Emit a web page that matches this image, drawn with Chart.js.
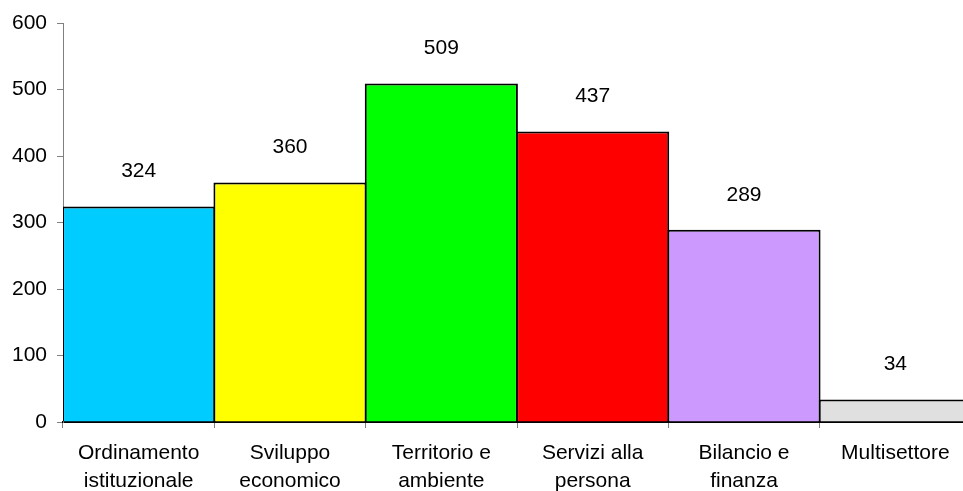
<!DOCTYPE html>
<html>
<head>
<meta charset="utf-8">
<script src="https://cdn.jsdelivr.net/npm/chart.js@4"></script>
<style>
  html, body { margin: 0; padding: 0; background: #fff; overflow: hidden; }
  /* a bit wider than the window: the last bar runs past the right edge */
  #wrap { width: 971px; height: 491px; }
</style>
</head>
<body>
<div id="wrap"><canvas id="settori"></canvas></div>
<script>
const categories = [
  ["Ordinamento", "istituzionale"],
  ["Sviluppo", "economico"],
  ["Territorio e", "ambiente"],
  ["Servizi alla", "persona"],
  ["Bilancio e", "finanza"],
  "Multisettore",
];
const values = [324, 360, 509, 437, 289, 34];
const barColors = ["#00CCFF", "#FFFF00", "#00FF00", "#FF0000", "#CC99FF", "#E0E0E0"];
const yTicks = [0, 100, 200, 300, 400, 500, 600];

const FONT = "'Liberation Sans', Arial, sans-serif";

// value labels over the bars
const valueLabels = {
  id: "valueLabels",
  afterDatasetsDraw(chart) {
    const ctx = chart.ctx;
    const meta = chart.getDatasetMeta(0);
    ctx.save();
    ctx.font = "21px " + FONT;
    ctx.fillStyle = "#000";
    ctx.textAlign = "center";
    ctx.textBaseline = "middle";
    meta.data.forEach((bar, i) => {
      ctx.fillText(String(values[i]), bar.x, bar.y - 35);
    });
    ctx.restore();
  },
};

new Chart(document.getElementById("settori"), {
  type: "bar",
  data: {
    labels: categories,
    datasets: [
      {
        data: values,
        backgroundColor: barColors,
        borderColor: "#000",
        borderWidth: 2,
        barPercentage: 1.012,
        categoryPercentage: 1,
      },
    ],
  },
  options: {
    responsive: true,
    maintainAspectRatio: false,
    animation: false,
    layout: { padding: { top: 23, right: 0, left: 0, bottom: 0 } },
    plugins: {
      legend: { display: false },
      tooltip: { enabled: false },
    },
    scales: {
      x: {
        grid: { display: true, drawOnChartArea: false, tickLength: 6, color: "#808080", offset: true },
        border: { display: true, color: "#000", width: 2 },
        ticks: {
          color: "#000",
          font: { family: FONT, size: 21, lineHeight: 1.33 },
          padding: 11,
          maxRotation: 0,
          autoSkip: false,
        },
        afterFit(scale) { scale.height = 69; },
      },
      y: {
        min: 0,
        max: 600,
        afterBuildTicks(scale) { scale.ticks = yTicks.map((v) => ({ value: v })); },
        grid: { display: true, drawOnChartArea: false, tickLength: 6, color: "#808080" },
        border: { display: true, color: "#808080", width: 1 },
        ticks: {
          color: "#000",
          font: { family: FONT, size: 21 },
          padding: 10,
        },
        afterFit(scale) { scale.width = 63; },
      },
    },
  },
  plugins: [valueLabels],
});
</script>
</body>
</html>
